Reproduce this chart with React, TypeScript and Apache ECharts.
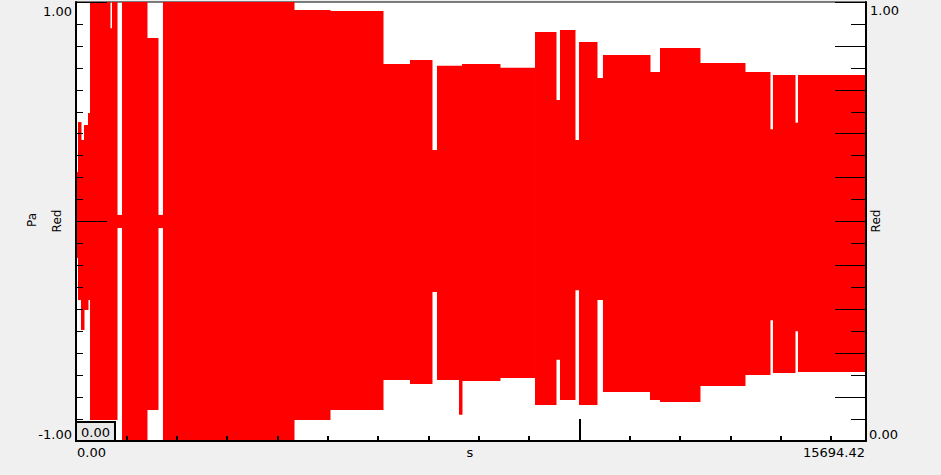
import React, { useEffect, useRef } from "react";
import * as echarts from "echarts";

const T_MAX = 15694.42;
// envelope segments of the waveform: start time (s), upper and lower amplitude
const segStart = [0, 40, 99, 159, 238, 278, 675, 715, 815, 914, 1410, 1629, 1728, 4331, 5046, 6099, 6635, 7072, 7172, 7609, 7668, 8423, 9119, 9536, 9615, 9913, 9993, 10350, 10469, 11403, 11602, 12396, 13290, 13787, 13846, 14284, 14343];
const upper = [0.225, 0.453, 0.371, 0.44, 0.494, 1.0, 0.88, 1.0, 0.03, 1.0, 0.836, 0.03, 1.0, 0.964, 0.959, 0.718, 0.736, 0.326, 0.709, 0.709, 0.718, 0.7, 0.863, 0.553, 0.872, 0.371, 0.818, 0.654, 0.759, 0.681, 0.79, 0.722, 0.681, 0.42, 0.667, 0.45, 0.667];
const lower = [-0.167, -0.358, -0.494, -0.403, -0.358, -0.904, -0.904, -0.904, -0.03, -1.0, -0.859, -0.03, -1.0, -0.904, -0.859, -0.722, -0.74, -0.321, -0.722, -0.88, -0.727, -0.713, -0.836, -0.63, -0.813, -0.313, -0.836, -0.358, -0.777, -0.813, -0.822, -0.749, -0.699, -0.45, -0.69, -0.5, -0.686];

const leftTickLabels = ["1.00", "-1.00"];
const rightTickLabels = ["1.00", "0.00"];
const xTickLabels = ["0.00", "15694.42"];

const FONT = "DejaVu Sans";

export default function App() {
  const ref = useRef<HTMLDivElement>(null);
  useEffect(() => {
    if (!ref.current) return;
    const chart = echarts.init(ref.current, undefined, { renderer: "svg" });
    const data = segStart.map((s, i) => [s, i + 1 < segStart.length ? segStart[i + 1] : T_MAX, lower[i], upper[i]]);
    const axisBase = { min: -1, max: 1, splitLine: { show: false }, axisLabel: { show: false } };
    chart.setOption({
      animation: false,
      backgroundColor: "#f0f0f0",
      grid: { left: 76, right: 75, top: 2, bottom: 34, show: true, backgroundColor: "#ffffff", borderColor: "#000", borderWidth: 1, z: 0 },
      xAxis: [
        {
          type: "value", min: 0, max: T_MAX, interval: 1000, position: "bottom", z: 5,
          axisLine: { show: true, onZero: false, lineStyle: { color: "#000", width: 2 } },
          axisTick: { show: true, inside: true, length: 5, lineStyle: { color: "#000", width: 2 } },
          axisLabel: { show: false }, splitLine: { show: false },
        },
        {
          type: "value", min: 0, max: T_MAX, interval: 10000, position: "bottom", z: 5,
          axisLine: { show: false, onZero: false },
          axisTick: { show: true, inside: true, length: 22, lineStyle: { color: "#000", width: 2 } },
          axisLabel: { show: false }, splitLine: { show: false },
        },
      ],
      yAxis: [
        { ...axisBase, type: "value", interval: 0.1, position: "left", z: 5,
          axisLine: { show: true, onZero: false, lineStyle: { color: "#000", width: 2 } },
          axisTick: { show: true, inside: true, length: 7, lineStyle: { color: "#000", width: 1 } } },
        { ...axisBase, type: "value", interval: 1, position: "left", z: 5,
          axisLine: { show: false, onZero: false },
          axisTick: { show: true, inside: true, length: 31, lineStyle: { color: "#000", width: 1 } } },
        { ...axisBase, type: "value", interval: 0.1, position: "right", z: 5,
          axisLine: { show: true, onZero: false, lineStyle: { color: "#000", width: 2 } },
          axisTick: { show: true, inside: true, length: 15, lineStyle: { color: "#000", width: 1 } } },
        { ...axisBase, type: "value", interval: 0.2, position: "right", z: 5,
          axisLine: { show: false, onZero: false },
          axisTick: { show: true, inside: true, length: 31, lineStyle: { color: "#000", width: 1 } } },
      ],
      series: [
        {
          type: "custom", xAxisIndex: 0, yAxisIndex: 0, clip: true, z: 2,
          encode: { x: [0, 1], y: [2, 3] },
          data,
          renderItem: (params: any, api: any) => {
            const p1 = api.coord([api.value(0), api.value(3)]);
            const p2 = api.coord([api.value(1), api.value(2)]);
            return {
              type: "rect",
              shape: { x: p1[0], y: p1[1], width: p2[0] - p1[0] + 0.5, height: p2[1] - p1[1] },
              style: { fill: "#ff0000" },
            };
          },
        },
      ],
      graphic: [
        { type: "text", x: 72, y: 11, z: 10, style: { text: leftTickLabels[0], font: `13px '${FONT}'`, fill: "#000", align: "right", verticalAlign: "middle" } },
        { type: "text", x: 72, y: 434, z: 10, style: { text: leftTickLabels[1], font: `13px '${FONT}'`, fill: "#000", align: "right", verticalAlign: "middle" } },
        { type: "text", x: 870, y: 10, z: 10, style: { text: rightTickLabels[0], font: `13px '${FONT}'`, fill: "#000", align: "left", verticalAlign: "middle" } },
        { type: "text", x: 869, y: 434, z: 10, style: { text: rightTickLabels[1], font: `13px '${FONT}'`, fill: "#000", align: "left", verticalAlign: "middle" } },
        { type: "text", x: 77, y: 452, z: 10, style: { text: xTickLabels[0], font: `13px '${FONT}'`, fill: "#000", align: "left", verticalAlign: "middle" } },
        { type: "text", x: 865, y: 452, z: 10, style: { text: xTickLabels[1], font: `13px '${FONT}'`, fill: "#000", align: "right", verticalAlign: "middle" } },
        { type: "text", x: 470, y: 452, z: 10, style: { text: "s", font: `13px '${FONT}'`, fill: "#000", align: "center", verticalAlign: "middle" } },
        { type: "rect", z: 10, shape: { x: 76, y: 422, width: 39, height: 19 }, style: { fill: "#e8e8e8", stroke: "#000", lineWidth: 2 } },
        { type: "text", x: 95.5, y: 432, z: 11, style: { text: "0.00", font: `13px '${FONT}'`, fill: "#000", align: "center", verticalAlign: "middle" } },
        { type: "text", x: 32, y: 220, rotation: Math.PI / 2, z: 10, style: { text: "Pa", font: `12px '${FONT}'`, fill: "#000", align: "center", verticalAlign: "middle" } },
        { type: "text", x: 57, y: 221, rotation: Math.PI / 2, z: 10, style: { text: "Red", font: `12px '${FONT}'`, fill: "#000", align: "center", verticalAlign: "middle" } },
        { type: "text", x: 876, y: 221, rotation: Math.PI / 2, z: 10, style: { text: "Red", font: `12px '${FONT}'`, fill: "#000", align: "center", verticalAlign: "middle" } },
      ],
    });
    return () => chart.dispose();
  }, []);
  return <div ref={ref} style={{ position: "absolute", left: 0, top: 0, width: 941, height: 475 }} />;
}
